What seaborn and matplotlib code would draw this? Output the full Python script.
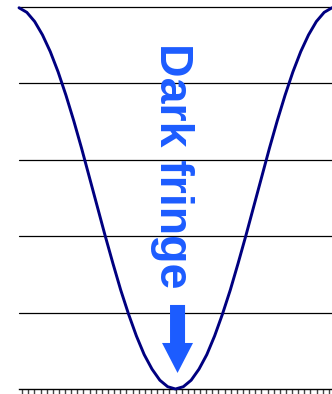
import numpy as np
import pandas as pd
import seaborn as sns
import matplotlib.pyplot as plt
from matplotlib.patches import FancyArrow

# Intensitaetsprofil, Position -1..1
position = [-1.00, -0.95, -0.90, -0.85, -0.80, -0.75, -0.70, -0.65, -0.60, -0.55,
            -0.50, -0.45, -0.40, -0.35, -0.30, -0.25, -0.20, -0.15, -0.10, -0.05,
            0.00, 0.05, 0.10, 0.15, 0.20, 0.25, 0.30, 0.35, 0.40, 0.45,
            0.50, 0.55, 0.60, 0.65, 0.70, 0.75, 0.80, 0.85, 0.90, 0.95, 1.00]
intensitaet = [0.998, 0.986, 0.962, 0.927, 0.883, 0.830, 0.769, 0.702, 0.630, 0.554,
               0.478, 0.402, 0.329, 0.259, 0.196, 0.139, 0.090, 0.052, 0.023, 0.006,
               0.000, 0.006, 0.023, 0.052, 0.090, 0.139, 0.196, 0.259, 0.329, 0.402,
               0.478, 0.554, 0.630, 0.702, 0.769, 0.830, 0.883, 0.927, 0.962, 0.986, 0.998]
gitter_y = [0.2, 0.4, 0.6, 0.8, 1.0]
beschriftung = "Dark fringe"

df = pd.DataFrame({"x": position, "I": intensitaet})

sns.set_style("white")
fig = plt.figure(figsize=(3.32, 3.94), dpi=100)
ax = fig.add_axes([19 / 332, 5 / 394, 313 / 332, 382 / 394])

sns.lineplot(data=df, x="x", y="I", ax=ax, color="#000080", linewidth=2.1,
             clip_on=False, zorder=3)

ax.set_xlim(-1, 1)
ax.set_ylim(0, 1)
ax.set_yticks(gitter_y)
ax.set_yticklabels([])
ax.tick_params(axis="y", length=0)
for y in gitter_y:
    ax.axhline(y, color="black", linewidth=0.9, clip_on=False, zorder=1)

ax.set_xticks(np.linspace(-0.98, 0.98, 51))
ax.set_xticklabels([])
ax.tick_params(axis="x", direction="out", length=5, width=1, color="#444444", bottom=True)
ax.set_xlabel("")
ax.set_ylabel("")

for s in ["left", "right", "top"]:
    ax.spines[s].set_visible(False)
ax.spines["bottom"].set_color("black")
ax.spines["bottom"].set_linewidth(1.0)

blau = "#1c5cff"
ax.text(-0.022, 0.584, beschriftung, rotation=270, ha="center", va="center",
        fontsize=33.5, fontweight="bold", color=blau, family="Liberation Sans")

ax.add_patch(FancyArrow(0.013, 0.22, 0, -0.178, width=0.096, head_width=0.198,
                        head_length=0.0785, length_includes_head=True,
                        color=blau, linewidth=0, zorder=4))

plt.savefig("out.png", dpi=100)
